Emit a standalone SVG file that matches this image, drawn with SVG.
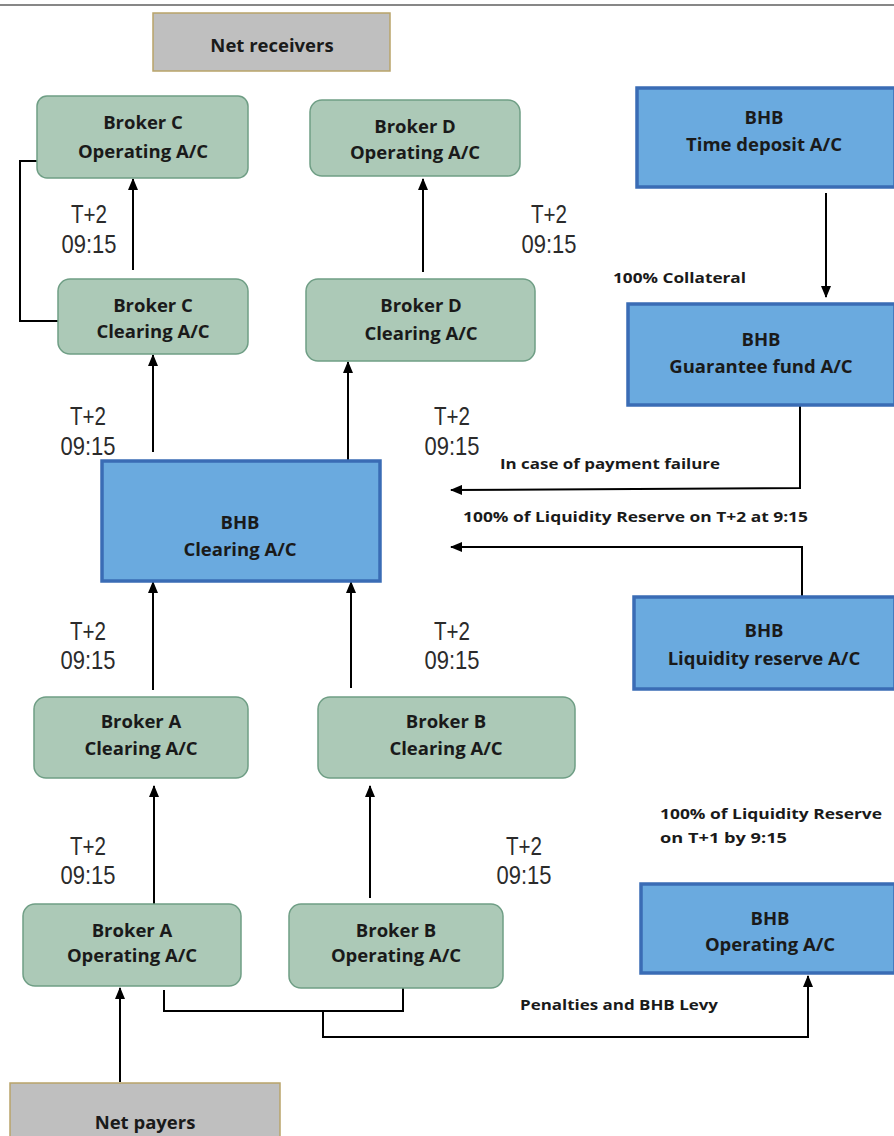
<svg xmlns="http://www.w3.org/2000/svg" width="894" height="1136" viewBox="0 0 894 1136">
<style>
.g{fill:#acc9b7;stroke:#6f9e85;stroke-width:1.5}
.b{fill:#6aaadf;stroke:#3a6cb5;stroke-width:3.5}
.n{fill:#bfbfbf;stroke:#b9a46a;stroke-width:1.5}
.t{font-family:"Open Sans","Liberation Sans",sans-serif;font-weight:bold;font-size:18.5px;fill:#1a1a1a;text-anchor:middle}
.l{font-family:"Open Sans","Liberation Sans",sans-serif;font-weight:bold;font-size:15px;fill:#1a1a1a}
.d{font-family:"Liberation Sans",Arial,sans-serif;font-size:26px;fill:#2b2b2b;text-anchor:middle}
.c{fill:none;stroke:#000;stroke-width:2}
</style>
<defs>
<marker id="ah" markerUnits="userSpaceOnUse" markerWidth="12" markerHeight="10" refX="11" refY="5" orient="auto">
<path d="M0,0 L12,5 L0,10 z" fill="#000"/>
</marker>
</defs>
<rect width="894" height="1136" fill="#fff"/>
<line x1="0" y1="5" x2="894" y2="5" stroke="#111" stroke-width="1.2"/>

<g id="connectors">
<line class="c" x1="133" y1="270" x2="133" y2="179" marker-end="url(#ah)"/>
<line class="c" x1="423" y1="272" x2="423" y2="179" marker-end="url(#ah)"/>
<polyline class="c" points="37,161 20,161 20,321 58,321"/>
<line class="c" x1="153" y1="452" x2="153" y2="355" marker-end="url(#ah)"/>
<line class="c" x1="348" y1="460" x2="348" y2="362" marker-end="url(#ah)"/>
<line class="c" x1="826" y1="193" x2="826" y2="297" marker-end="url(#ah)"/>
<polyline class="c" points="800,405 800,488 451,490" marker-end="url(#ah)"/>
<polyline class="c" points="802,597 802,547 451,547" marker-end="url(#ah)"/>
<line class="c" x1="153" y1="690" x2="153" y2="582" marker-end="url(#ah)"/>
<line class="c" x1="351" y1="688" x2="351" y2="582" marker-end="url(#ah)"/>
<line class="c" x1="154" y1="905" x2="154" y2="786" marker-end="url(#ah)"/>
<line class="c" x1="370" y1="898" x2="370" y2="786" marker-end="url(#ah)"/>
<line class="c" x1="120" y1="1082" x2="120" y2="988" marker-end="url(#ah)"/>
<polyline class="c" points="164,990 164,1011 403,1011 403,988"/>
<polyline class="c" points="323,1011 323,1037 808,1037 808,976" marker-end="url(#ah)"/>
</g>

<g id="labels">
<text class="d" x="89" y="223" textLength="36" lengthAdjust="spacingAndGlyphs">T+2</text>
<text class="d" x="89" y="253" textLength="55" lengthAdjust="spacingAndGlyphs">09:15</text>
<text class="d" x="549" y="223" textLength="36" lengthAdjust="spacingAndGlyphs">T+2</text>
<text class="d" x="549" y="253" textLength="55" lengthAdjust="spacingAndGlyphs">09:15</text>
<text class="d" x="88" y="425" textLength="36" lengthAdjust="spacingAndGlyphs">T+2</text>
<text class="d" x="88" y="455" textLength="55" lengthAdjust="spacingAndGlyphs">09:15</text>
<text class="d" x="452" y="425" textLength="36" lengthAdjust="spacingAndGlyphs">T+2</text>
<text class="d" x="452" y="455" textLength="55" lengthAdjust="spacingAndGlyphs">09:15</text>
<text class="d" x="88" y="640" textLength="36" lengthAdjust="spacingAndGlyphs">T+2</text>
<text class="d" x="88" y="669" textLength="55" lengthAdjust="spacingAndGlyphs">09:15</text>
<text class="d" x="452" y="640" textLength="36" lengthAdjust="spacingAndGlyphs">T+2</text>
<text class="d" x="452" y="669" textLength="55" lengthAdjust="spacingAndGlyphs">09:15</text>
<text class="d" x="88" y="855" textLength="36" lengthAdjust="spacingAndGlyphs">T+2</text>
<text class="d" x="88" y="884" textLength="55" lengthAdjust="spacingAndGlyphs">09:15</text>
<text class="d" x="524" y="855" textLength="36" lengthAdjust="spacingAndGlyphs">T+2</text>
<text class="d" x="524" y="884" textLength="55" lengthAdjust="spacingAndGlyphs">09:15</text>
<text class="l" x="613" y="283" textLength="133" lengthAdjust="spacingAndGlyphs">100% Collateral</text>
<text class="l" x="500" y="469" textLength="220" lengthAdjust="spacingAndGlyphs">In case of payment failure</text>
<text class="l" x="463" y="522" textLength="345" lengthAdjust="spacingAndGlyphs">100% of Liquidity Reserve on T+2 at 9:15</text>
<text class="l" x="660" y="819" textLength="222" lengthAdjust="spacingAndGlyphs">100% of Liquidity Reserve</text>
<text class="l" x="660" y="843" textLength="127" lengthAdjust="spacingAndGlyphs">on T+1 by 9:15</text>
<text class="l" x="520" y="1010" textLength="198" lengthAdjust="spacingAndGlyphs">Penalties and BHB Levy</text>
</g>

<g id="net-receivers">
<rect class="n" x="153" y="13" width="237" height="58"/>
<text class="t" x="272" y="52">Net receivers</text>
</g>
<g id="broker-c-operating">
<rect class="g" x="37" y="96" width="211" height="82" rx="10"/>
<text class="t" x="143" y="129">Broker C</text>
<text class="t" x="143" y="158">Operating A/C</text>
</g>
<g id="broker-d-operating">
<rect class="g" x="310" y="100" width="210" height="76" rx="12"/>
<text class="t" x="415" y="133">Broker D</text>
<text class="t" x="415" y="159">Operating A/C</text>
</g>
<g id="broker-c-clearing">
<rect class="g" x="58" y="279" width="190" height="75" rx="12"/>
<text class="t" x="153" y="312">Broker C</text>
<text class="t" x="153" y="338">Clearing A/C</text>
</g>
<g id="broker-d-clearing">
<rect class="g" x="306" y="279" width="229" height="82" rx="12"/>
<text class="t" x="421" y="312">Broker D</text>
<text class="t" x="421" y="340">Clearing A/C</text>
</g>
<g id="bhb-time-deposit">
<rect class="b" x="637" y="88" width="258" height="99"/>
<text class="t" x="764" y="124">BHB</text>
<text class="t" x="764" y="151">Time deposit A/C</text>
</g>
<g id="bhb-guarantee-fund">
<rect class="b" x="628" y="304" width="267" height="101"/>
<text class="t" x="761" y="346">BHB</text>
<text class="t" x="761" y="373">Guarantee fund A/C</text>
</g>
<g id="bhb-clearing">
<rect class="b" x="102" y="461" width="278" height="120"/>
<text class="t" x="240" y="529">BHB</text>
<text class="t" x="240" y="556">Clearing A/C</text>
</g>
<g id="bhb-liquidity-reserve">
<rect class="b" x="634" y="597" width="261" height="92"/>
<text class="t" x="764" y="637">BHB</text>
<text class="t" x="764" y="665">Liquidity reserve A/C</text>
</g>
<g id="broker-a-clearing">
<rect class="g" x="34" y="697" width="214" height="81" rx="12"/>
<text class="t" x="141" y="728">Broker A</text>
<text class="t" x="141" y="755">Clearing A/C</text>
</g>
<g id="broker-b-clearing">
<rect class="g" x="318" y="697" width="257" height="81" rx="12"/>
<text class="t" x="446" y="728">Broker B</text>
<text class="t" x="446" y="755">Clearing A/C</text>
</g>
<g id="broker-a-operating">
<rect class="g" x="23" y="904" width="218" height="82" rx="12"/>
<text class="t" x="132" y="937">Broker A</text>
<text class="t" x="132" y="962">Operating A/C</text>
</g>
<g id="broker-b-operating">
<rect class="g" x="289" y="904" width="214" height="84" rx="12"/>
<text class="t" x="396" y="937">Broker B</text>
<text class="t" x="396" y="962">Operating A/C</text>
</g>
<g id="bhb-operating">
<rect class="b" x="641" y="884" width="254" height="89"/>
<text class="t" x="770" y="925">BHB</text>
<text class="t" x="770" y="951">Operating A/C</text>
</g>
<g id="net-payers">
<rect class="n" x="10" y="1083" width="270" height="60"/>
<text class="t" x="145" y="1129">Net payers</text>
</g>
</svg>
